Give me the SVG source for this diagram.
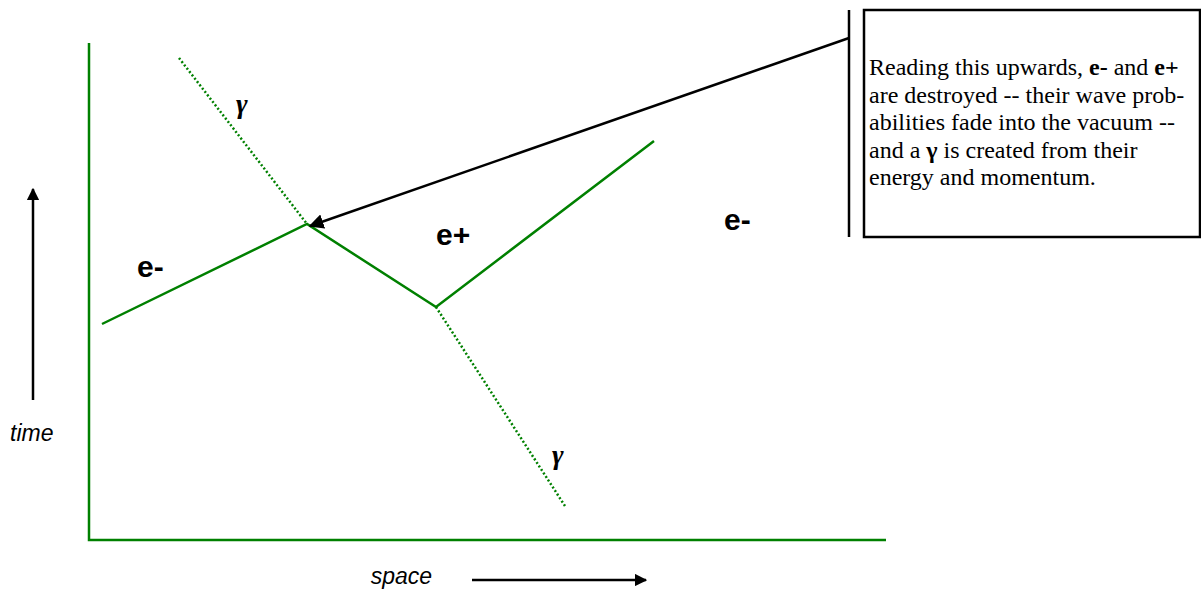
<svg xmlns="http://www.w3.org/2000/svg" width="1201" height="590" viewBox="0 0 1201 590">
<defs>
<marker id="ah" viewBox="0 0 10 10" refX="9" refY="5" markerWidth="6" markerHeight="6" markerUnits="strokeWidth" orient="auto">
<path d="M0,0 L10,5 L0,10 Z" fill="#000"/>
</marker>
<marker id="ah2" viewBox="0 0 10 10" refX="9" refY="5" markerWidth="5" markerHeight="5" markerUnits="strokeWidth" orient="auto">
<path d="M0,0 L10,5 L0,10 Z" fill="#000"/>
</marker>
<style>
.g{stroke:#008000;stroke-width:2.5;fill:none}
.d{stroke:#008000;stroke-width:2.5;fill:none;stroke-dasharray:2 2.2}
.k{stroke:#000;stroke-width:2.5;fill:none}
.lbl{font-family:"Liberation Sans",Arial,sans-serif;font-weight:bold;font-size:30px;fill:#000}
.ax{font-family:"Liberation Sans",Arial,sans-serif;font-style:italic;font-size:23px;fill:#000}
.gm{font-family:"Liberation Serif","DejaVu Serif",serif;font-weight:bold;font-style:italic;font-size:28px;fill:#000}
.bx{font-family:"Liberation Serif","Times New Roman",serif;font-size:24px;fill:#000}
</style>
</defs>
<g id="axes">
<path class="g" d="M89,43 V540 H886"/>
</g>
<g id="time-axis">
<line class="k" x1="33" y1="400" x2="33" y2="189" marker-end="url(#ah2)"/>
<text class="ax" x="10" y="441">time</text>
</g>
<g id="space-axis">
<line class="k" x1="472" y1="580" x2="646" y2="580" marker-end="url(#ah2)"/>
<text class="ax" x="432" y="584" text-anchor="end">space</text>
</g>
<g id="connectors">
<path class="g" d="M102,324 L307,224 L436,307 L654,141"/>
<line class="d" x1="179" y1="58" x2="307" y2="224"/>
<line class="d" x1="436" y1="307" x2="565" y2="506"/>
<line class="k" x1="849" y1="38" x2="310" y2="226" marker-end="url(#ah)"/>
</g>
<g id="label-e-minus-left"><text class="lbl" x="137" y="277">e-</text></g>
<g id="label-e-plus"><text class="lbl" x="436" y="245">e+</text></g>
<g id="label-e-minus-right"><text class="lbl" x="724" y="230">e-</text></g>
<g id="gamma-top"><text class="gm" x="236" y="113">γ</text></g>
<g id="gamma-bottom"><text class="gm" x="552" y="464">γ</text></g>
<g id="callout">
<line class="k" x1="849" y1="10" x2="849" y2="237"/>
<rect x="864" y="10" width="336" height="227" fill="#fff" stroke="#000" stroke-width="2.5"/>
<text class="bx">
<tspan x="869" y="75">Reading this upwards, <tspan font-weight="bold">e-</tspan> and <tspan font-weight="bold">e+</tspan></tspan>
<tspan x="869" y="102.5">are destroyed -- their wave prob-</tspan>
<tspan x="869" y="130">abilities fade into the vacuum --</tspan>
<tspan x="869" y="157.5">and a <tspan font-weight="bold">γ</tspan> is created from their</tspan>
<tspan x="869" y="185">energy and momentum.</tspan>
</text>
</g>
</svg>
